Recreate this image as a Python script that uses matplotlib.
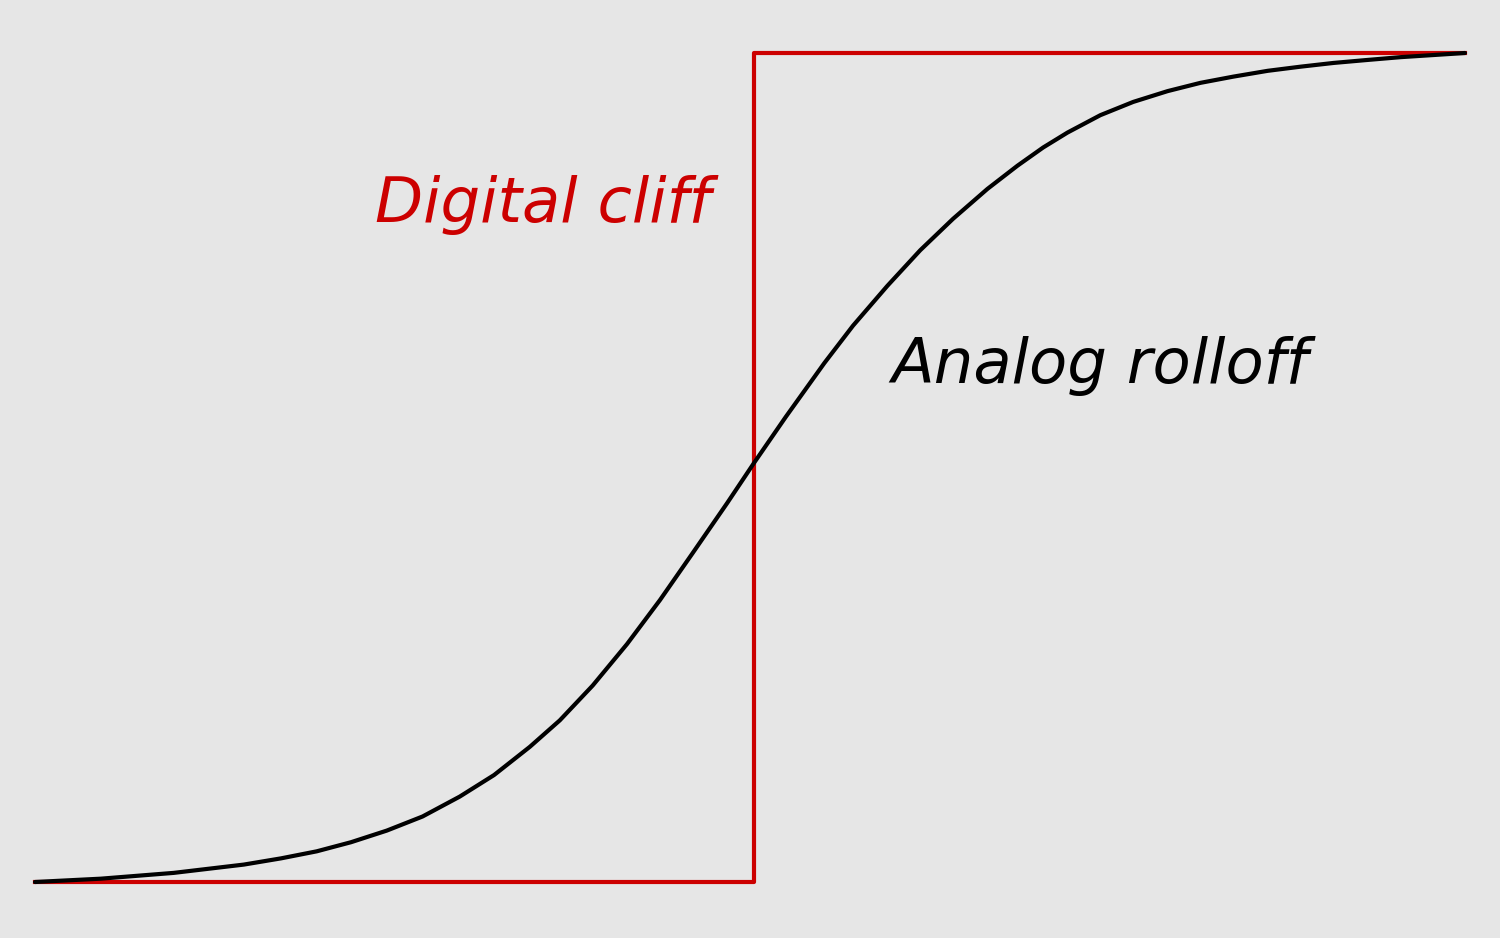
import matplotlib
matplotlib.use('Agg')
import matplotlib.pyplot as plt

# 数字信号的断崖 vs 模拟信号的平滑衰减
cliff_x = [0, 50.3, 100]
cliff_y = [0, 100, 100]

analog_x = [0, 4.6, 9.7, 14.6, 17.2, 19.7, 22.1, 24.6, 27.1, 29.7, 32.1, 34.6,
            36.7, 39.0, 41.4, 43.7, 46.0, 48.4, 50.3, 52.5, 55.2, 57.2,
            59.6, 61.9, 64.2, 66.6, 68.7, 70.5, 72.2, 74.5, 76.8, 79.2,
            81.5, 83.8, 86.2, 88.5, 90.8, 93.1, 95.5, 100]
analog_y = [0, 0.4, 1.1, 2.1, 2.85, 3.7, 4.8, 6.2, 7.9, 10.3, 12.9, 16.3,
            19.5, 23.7, 28.7, 34.0, 39.7, 45.7, 50.6, 56.1, 62.6, 67.1,
            71.9, 76.2, 80.0, 83.6, 86.4, 88.6, 90.4, 92.5, 94.1, 95.4,
            96.4, 97.15, 97.85, 98.35, 98.8, 99.15, 99.5, 100]

labels = ['Digital cliff', 'Analog rolloff']

bg = '#e6e6e6'
red = '#cc0000'

fig = plt.figure(figsize=(15, 9.38), dpi=100, facecolor=bg)
ax = fig.add_axes([35 / 1500, 56 / 938, 1430 / 1500, 829 / 938])
ax.set_facecolor(bg)
ax.set_xlim(0, 100)
ax.set_ylim(0, 100)
ax.axis('off')

ax.step(cliff_x, cliff_y, where='post', color=red, lw=3, clip_on=False)
ax.plot(analog_x, analog_y, color='black', lw=3, clip_on=False,
        solid_joinstyle='round', solid_capstyle='round')

ax.text(23.8, 79.6, labels[0], color=red, fontsize=45, style='italic',
        family='DejaVu Sans', va='baseline', ha='left')
ax.text(59.9, 60.2, labels[1], color='black', fontsize=45, style='italic',
        family='DejaVu Sans', va='baseline', ha='left')

fig.savefig('out.png', dpi=100, facecolor=bg)
